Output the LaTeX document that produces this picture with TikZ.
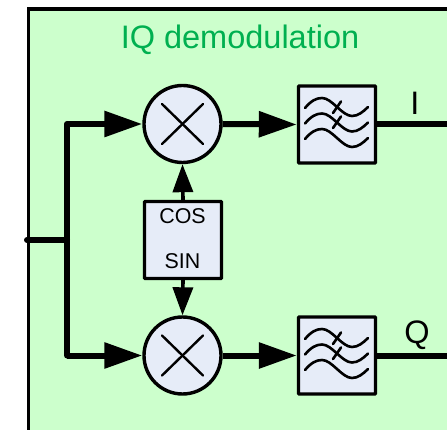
\documentclass[tikz,border=0pt]{standalone}
\usepackage{fontspec}
\setmainfont{Liberation Sans}
\usetikzlibrary{arrows.meta}
\definecolor{panelgreen}{HTML}{CCFFCC}
\definecolor{boxblue}{HTML}{E6ECF8}
\definecolor{titlegreen}{HTML}{00B050}
\tikzset{
  mixer/.style={circle,draw=black,line width=3.4pt,fill=boxblue,minimum size=77pt,inner sep=0pt},
  blockbox/.style={rectangle,draw=black,line width=3.4pt,fill=boxblue,minimum size=77pt,inner sep=0pt,rounded corners=0.8pt},
  thick wire/.style={line width=6pt,line cap=round,line join=round},
  main arrow/.style={line width=6pt,-{Triangle[length=38pt,width=25pt,sharp]}},
  side arrow/.style={line width=3.6pt,-{Triangle[length=28pt,width=20pt,sharp]}},
  glyph/.style={line width=2.6pt,line cap=round},
  label text/.style={font=\fontsize{32.5}{36}\selectfont,inner sep=0pt,anchor=base},
  pics/lowpass/.style={code={
    \foreach \dy in {-16.5,-1,14.5}{
      \draw[glyph] (-32,\dy) .. controls (-26,{\dy-7}) and (-21,{\dy-10}) .. (-15,{\dy-10})
        .. controls (-5,{\dy-10}) and (5,{\dy+8}) .. (15,{\dy+8})
        .. controls (21,{\dy+8}) and (26,{\dy+4}) .. (31,{\dy-1});
    }
    \draw[glyph] (4,-23) -- (-4,-11.5);
    \draw[glyph] (4,-8) -- (-4,3.5);
  }}
}
\begin{document}
\begin{tikzpicture}[x=1pt,y=-1pt]
\useasboundingbox (0,0) rectangle (447,430);
\fill[panelgreen] (28.3,9) rectangle (447,430);
\draw[line width=3.4pt,line cap=butt] (28.3,430) -- (28.3,9) -- (447,9);
\node[label text,text=titlegreen] (title) at (240,49) {IQ demodulation};

\node[mixer] (mixI) at (182.5,124) {};
\node[mixer] (mixQ) at (182.5,355.5) {};
\node[blockbox] (lpI) at (337,124.5) {};
\node[blockbox] (lpQ) at (337,355.5) {};
\node[blockbox] (osc) at (183,240) {};
\node[font=\fontsize{21.4}{24}\selectfont,inner sep=0pt,anchor=base] (cos) at (182.5,224) {COS};
\node[font=\fontsize{21.4}{24}\selectfont,inner sep=0pt,anchor=base] (sin) at (182.5,269) {SIN};

\foreach \m in {mixI,mixQ}{
  \draw[line width=2.4pt,line cap=round] ([shift={(-20.5,-20)}]\m.center) -- ([shift={(20.5,20)}]\m.center);
  \draw[line width=2.4pt,line cap=round] ([shift={(20.5,-20)}]\m.center) -- ([shift={(-20.5,20)}]\m.center);
}
\pic at (lpI.center) {lowpass};
\pic at (lpQ.center) {lowpass};

\coordinate (in) at (27,240);
\coordinate (branch) at (67,240);
\coordinate (outI) at (447,124.5);
\coordinate (outQ) at (447,355.5);
\draw[thick wire] (in) -- (branch);
\draw[thick wire] (branch) -- (branch |- mixI);
\draw[thick wire] (branch) -- (branch |- mixQ);
\draw[main arrow] (branch |- mixI) -- (mixI.west);
\draw[main arrow] (branch |- mixQ) -- (mixQ.west);
\draw[main arrow] (mixI.east) -- (lpI.west);
\draw[main arrow] (mixQ.east) -- (lpQ.west);
\draw[line width=6pt] (lpI.east) -- (outI);
\draw[line width=6pt] (lpQ.east) -- (outQ);
\draw[side arrow] (osc.north) -- (mixI.south);
\draw[side arrow] (osc.south) -- (mixQ.north);

\node[label text] (labI) at (415,115) {I};
\node[label text] (labQ) at (417,343) {Q};
\end{tikzpicture}
\end{document}
